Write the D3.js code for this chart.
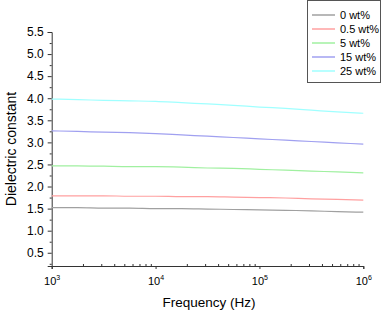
<!DOCTYPE html>
<html lang="en">
<head>
    <meta charset="UTF-8">
    <title>Dielectric constant vs frequency</title>
    <script src="https://d3js.org/d3.v7.min.js"></script>
    <style>
        body { margin: 0; background: #fff; }
        text { font-family: "Liberation Sans", Arial, sans-serif; fill: #000; }
    </style>
</head>
<body>
    <script>
        // log10 of frequency, every quarter decade
        const logFreq = [3, 3.25, 3.5, 3.75, 4, 4.25, 4.5, 4.75, 5, 5.25, 5.5, 5.75, 6];
        const seriesNames = ["0 wt%", "0.5 wt%", "5 wt%", "15 wt%", "25 wt%"];
        const wt0 = [1.52, 1.52, 1.51, 1.51, 1.50, 1.50, 1.49, 1.48, 1.47, 1.46, 1.45, 1.43, 1.42];
        const wt05 = [1.79, 1.79, 1.79, 1.78, 1.78, 1.77, 1.77, 1.76, 1.75, 1.74, 1.72, 1.71, 1.69];
        const wt5 = [2.47, 2.47, 2.46, 2.45, 2.45, 2.44, 2.42, 2.41, 2.39, 2.37, 2.35, 2.33, 2.31];
        const wt15 = [3.26, 3.25, 3.23, 3.22, 3.20, 3.17, 3.14, 3.11, 3.08, 3.05, 3.02, 2.99, 2.96];
        const wt25 = [3.98, 3.97, 3.95, 3.94, 3.93, 3.90, 3.87, 3.84, 3.80, 3.77, 3.73, 3.69, 3.66];
        const seriesValues = [wt0, wt05, wt5, wt15, wt25];
        const colors = ["#a0a0a0", "#ffa0a0", "#a0f0a0", "#a0a0f0", "#a0ffff"];
        const yTicks = [0.5, 1.0, 1.5, 2.0, 2.5, 3.0, 3.5, 4.0, 4.5, 5.0, 5.5];
        const xTicks = [1e3, 1e4, 1e5, 1e6];

        const width = 387;
        const height = 312;

        const svg = d3.select("body").append("svg")
            .attr("width", width)
            .attr("height", height);

        const x = d3.scaleLog().domain([1e3, 1e6]).range([51.7, 363.3]);
        const y = d3.scaleLinear().domain([0.2, 5.5]).range([266, 32]);

        // y axis: major and minor ticks outward
        const yMinor = d3.range(0.25, 5.5, 0.5);
        svg.append("g")
            .attr("transform", "translate(51.7,0)")
            .call(d3.axisLeft(y).tickValues(yMinor).tickSize(2).tickFormat(""))
            .call(g => g.select(".domain").remove());
        const yAxis = svg.append("g")
            .attr("transform", "translate(51.7,0)")
            .call(d3.axisLeft(y).tickValues(yTicks).tickSize(4).tickPadding(4).tickFormat(d3.format(".1f")));
        yAxis.selectAll("text").style("font-size", "12px");

        // x axis: minor ticks inside, majors outward
        const xMinor = [];
        for (let e = 3; e < 6; e++) {
            for (let k = 2; k <= 9; k++) xMinor.push(k * Math.pow(10, e));
        }
        svg.append("g")
            .attr("transform", "translate(0,266)")
            .call(d3.axisTop(x).tickValues(xMinor).tickSize(2).tickFormat(""))
            .call(g => g.select(".domain").remove());
        const xAxis = svg.append("g")
            .attr("transform", "translate(0,266)")
            .call(d3.axisBottom(x).tickValues(xTicks).tickSize(3).tickFormat(""));

        xAxis.selectAll(".tick").append("text")
            .attr("y", 19)
            .attr("text-anchor", "middle")
            .style("font-size", "11px")
            .each(function (d) {
                const t = d3.select(this);
                t.append("tspan").text("10");
                t.append("tspan").attr("dy", -5).style("font-size", "7px").text(Math.round(Math.log10(d)));
            });

        svg.selectAll(".domain, .tick line").attr("stroke", "#333");

        // series lines
        const line = d3.line()
            .x((d, i) => x(Math.pow(10, logFreq[i])))
            .y(d => y(d))
            .curve(d3.curveMonotoneX);

        svg.append("g").selectAll("path")
            .data(seriesValues)
            .enter().append("path")
            .attr("d", line)
            .attr("fill", "none")
            .attr("stroke", (d, i) => colors[i])
            .attr("stroke-width", 1.2);

        // axis titles
        svg.append("text")
            .attr("x", 209)
            .attr("y", 307)
            .attr("text-anchor", "middle")
            .style("font-size", "13.5px")
            .text("Frequency (Hz)");

        svg.append("text")
            .attr("transform", "translate(16,149) rotate(-90)")
            .attr("text-anchor", "middle")
            .style("font-size", "14px")
            .text("Dielectric constant");

        // legend
        const legend = svg.append("g");
        legend.append("rect")
            .attr("x", 307.5)
            .attr("y", 0.5)
            .attr("width", 73)
            .attr("height", 82)
            .attr("fill", "#fff")
            .attr("stroke", "#555");

        const items = legend.selectAll(".item")
            .data(seriesNames)
            .enter().append("g")
            .attr("transform", (d, i) => `translate(0,${15 + i * 14})`);
        items.append("line")
            .attr("x1", 312).attr("x2", 335)
            .attr("stroke", (d, i) => colors[i])
            .attr("stroke-width", 1.5);
        items.append("text")
            .attr("x", 340)
            .attr("dy", "0.35em")
            .style("font-size", "11px")
            .text(d => d);
    </script>
</body>
</html>
